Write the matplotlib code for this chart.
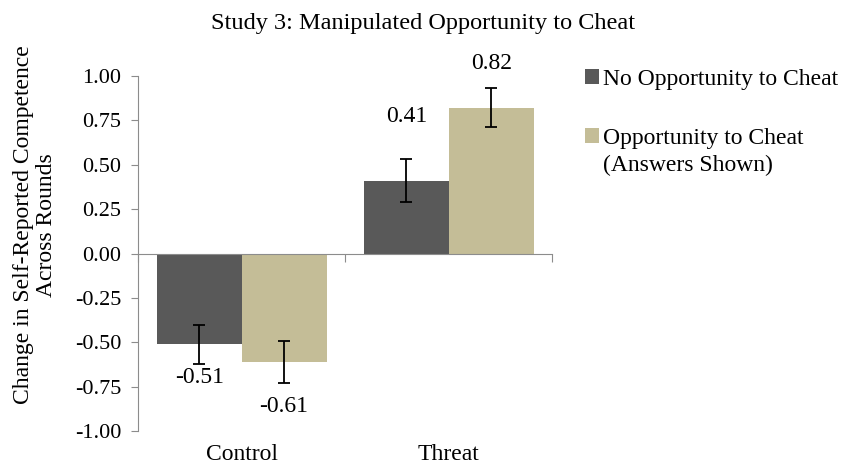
import numpy as np
import matplotlib
matplotlib.use("Agg")
import matplotlib.pyplot as plt
import matplotlib.transforms as mtransforms

plt.rcParams['font.family'] = ['Liberation Serif', 'DejaVu Serif']
plt.rcParams['axes.unicode_minus'] = False

categories = ['Control', 'Threat']
series_names = ['No Opportunity to Cheat', 'Opportunity to Cheat']
series_extra = '(Answers Shown)'
no_cheat = [-0.51, 0.41]
cheat = [-0.61, 0.82]
no_cheat_err = [0.11, 0.12]
cheat_err = [0.12, 0.11]
colors = ['#595959', '#C4BD97']
axis_gray = '#8c8c8c'

fig = plt.figure(figsize=(8.42, 4.66), dpi=100)
ax = fig.add_axes([0.164, 0.075, 0.492, 0.762])

x = np.arange(len(categories))
w = 0.41
ax.bar(x - w/2, no_cheat, w, color=colors[0], label=series_names[0], zorder=2)
ax.bar(x + w/2, cheat, w, color=colors[1], label=series_names[1], zorder=2)
ax.errorbar(x - w/2, no_cheat, yerr=no_cheat_err, fmt='none', ecolor='black',
            elinewidth=1.3, capsize=4, capthick=1.3, zorder=3)
ax.errorbar(x + w/2, cheat, yerr=cheat_err, fmt='none', ecolor='black',
            elinewidth=1.3, capsize=4, capthick=1.3, zorder=3)

# value labels, offsets picked by eye from the original
label_off = [[-0.08, 0.24], [-0.13, 0.14]]
for vals, errs, offs, dx in [(no_cheat, no_cheat_err, label_off[0], -w/2),
                             (cheat, cheat_err, label_off[1], w/2)]:
    for i, (v, e) in enumerate(zip(vals, errs)):
        sgn = 1 if v >= 0 else -1
        ax.text(x[i] + dx, v + sgn * e + offs[i], f'{v:.2f}', ha='center', va='center',
                fontsize=17)

ax.set_xlim(-0.5, 1.5)
ax.set_ylim(-1, 1)
ax.set_yticks(np.arange(-1, 1.01, 0.25))
ax.yaxis.set_major_formatter(matplotlib.ticker.FormatStrFormatter('%.2f'))

for s in ['top', 'right']:
    ax.spines[s].set_visible(False)
ax.spines['left'].set_color(axis_gray)
ax.spines['bottom'].set_color(axis_gray)
ax.spines['bottom'].set_position(('data', 0))
ax.spines['bottom'].set_zorder(4)
ax.set_xticks([-0.5, 0.5, 1.5])
ax.set_xticklabels([])
ax.tick_params(axis='x', direction='out', length=6, color=axis_gray)
ax.tick_params(axis='y', direction='out', length=5, color=axis_gray, labelsize=16, pad=7)

trans = mtransforms.blended_transform_factory(ax.transData, ax.transAxes)
for i, c in enumerate(categories):
    ax.text(x[i], -0.082, c, transform=trans, ha='center', va='baseline', fontsize=17)

ax.set_ylabel('Change in Self-Reported Competence\nAcross Rounds', fontsize=17,
              linespacing=1.15)
ax.yaxis.set_label_coords(-0.195, 0.58)
fig.text(0.502, 0.95, 'Study 3: Manipulated Opportunity to Cheat', ha='center', va='center',
         fontsize=17.5)

leg = ax.legend(loc='upper left', bbox_to_anchor=(0.695, 0.852), bbox_transform=fig.transFigure,
                frameon=False, fontsize=17, handlelength=0.6, handleheight=0.6,
                handletextpad=0.15, labelspacing=1.6, borderaxespad=0, borderpad=0)

# second line of the last legend entry sits under the label, marker stays on the first line
fig.canvas.draw()
bb = leg.get_texts()[1].get_window_extent()
inv = fig.transFigure.inverted()
x0, y0 = inv.transform((bb.x0, bb.y0))
fig.text(x0, y0 - 6 / 466, series_extra, ha='left', va='top', fontsize=17)

fig.savefig('out.png', dpi=100)
